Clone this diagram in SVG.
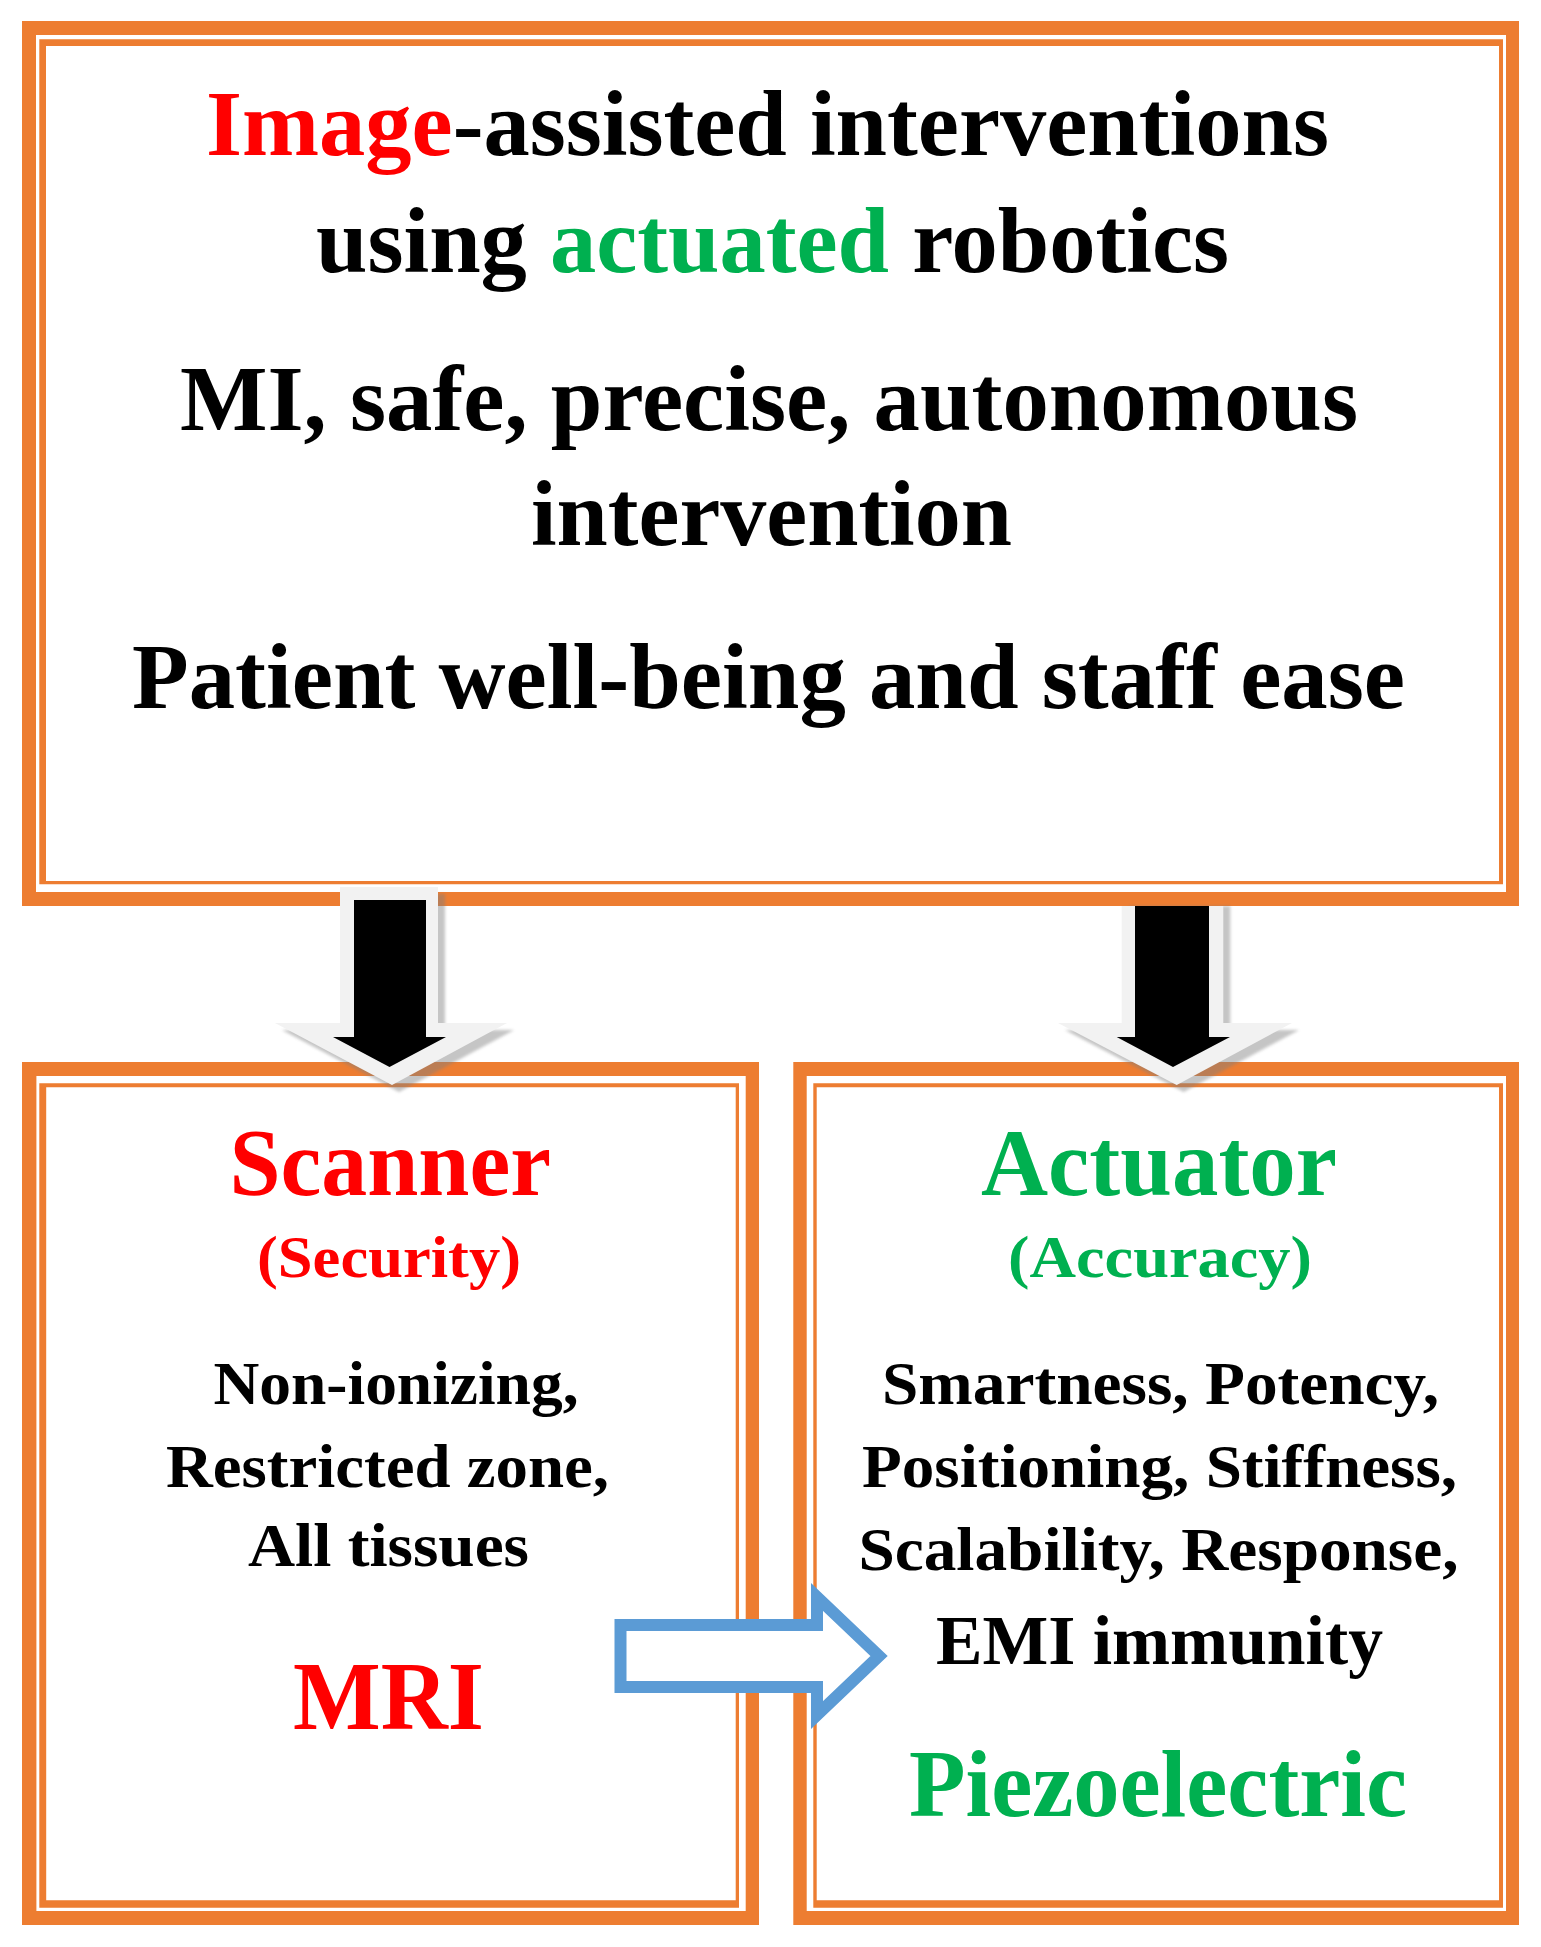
<svg xmlns="http://www.w3.org/2000/svg" width="1541" height="1947" viewBox="0 0 1541 1947">
<defs>
<style>
.band{fill:#ED7D31;fill-rule:evenodd}
.t{font-family:"Liberation Serif","Times New Roman",serif;font-weight:bold}
.big{font-size:94px}
.hd{font-size:96px}
.sub{font-size:60px}
.mid{font-size:62px}
.blk{fill:#000000}
.red{fill:#FF0000}
.grn{fill:#00B050}
.out{fill:#F2F2F2}
.shd{fill:#7F7F7F;opacity:0.45}
</style>
<filter id="blur" x="-10%" y="-10%" width="120%" height="120%"><feGaussianBlur stdDeviation="1.5"/></filter>
</defs>
<rect x="0" y="0" width="1541" height="1947" fill="#FFFFFF"/>

<g id="node-top">
<path class="band" d="M22 21 H1519 V906 H22 Z M36 35 V892 H1506 V35 Z"/>
<path class="band" d="M39.3 39.3 H1503 V884.3 H39.3 Z M46 46 V881 H1499 V46 Z"/>
<text class="t big blk" x="206" y="155" textLength="1123" lengthAdjust="spacingAndGlyphs"><tspan class="red">Image</tspan>-assisted interventions</text>
<text class="t big blk" x="316" y="272" textLength="913" lengthAdjust="spacingAndGlyphs">using <tspan class="grn">actuated</tspan> robotics</text>
<text class="t big blk" x="180" y="430" textLength="1178" lengthAdjust="spacingAndGlyphs">MI, safe, precise, autonomous</text>
<text class="t big blk" x="531" y="545" textLength="481" lengthAdjust="spacingAndGlyphs">intervention</text>
<text class="t big blk" x="132" y="708" textLength="1273" lengthAdjust="spacingAndGlyphs">Patient well-being and staff ease</text>
</g>

<g id="node-scanner">
<path class="band" d="M22 1062 H759 V1925 H22 Z M36.4 1076 V1911 H745.7 V1076 Z"/>
<path class="band" d="M39.3 1083.3 H739 V1907.7 H39.3 Z M46.2 1087.3 V1900.3 H735.7 V1087.3 Z"/>
<text class="t hd red" x="229.5" y="1195" textLength="321.5" lengthAdjust="spacingAndGlyphs">Scanner</text>
<text class="t sub red" x="257" y="1277" textLength="264" lengthAdjust="spacingAndGlyphs">(Security)</text>
<text class="t mid blk" x="213.5" y="1404" textLength="365" lengthAdjust="spacingAndGlyphs">Non-ionizing,</text>
<text class="t mid blk" x="166" y="1487" textLength="443" lengthAdjust="spacingAndGlyphs">Restricted zone,</text>
<text class="t mid blk" x="248" y="1566" textLength="281" lengthAdjust="spacingAndGlyphs">All tissues</text>
<text class="t red" style="font-size:97px" x="293" y="1729" textLength="191" lengthAdjust="spacingAndGlyphs">MRI</text>
</g>

<g id="node-actuator">
<path class="band" d="M793.3 1062 H1519 V1925 H793.3 Z M806.7 1076 V1911 H1506 V1076 Z"/>
<path class="band" d="M813.3 1083.3 H1503 V1907.7 H813.3 Z M816.7 1087.3 V1900.3 H1499 V1087.3 Z"/>
<text class="t hd grn" x="981" y="1195" textLength="356" lengthAdjust="spacingAndGlyphs">Actuator</text>
<text class="t sub grn" x="1008" y="1277" textLength="304" lengthAdjust="spacingAndGlyphs">(Accuracy)</text>
<text class="t mid blk" x="882" y="1404" textLength="557" lengthAdjust="spacingAndGlyphs">Smartness, Potency,</text>
<text class="t mid blk" x="862" y="1487" textLength="595" lengthAdjust="spacingAndGlyphs">Positioning, Stiffness,</text>
<text class="t mid blk" x="858.5" y="1570" textLength="600" lengthAdjust="spacingAndGlyphs">Scalability, Response,</text>
<text class="t blk" style="font-size:70px" x="936" y="1664" textLength="447" lengthAdjust="spacingAndGlyphs">EMI immunity</text>
<text class="t hd grn" x="909" y="1816" textLength="498" lengthAdjust="spacingAndGlyphs">Piezoelectric</text>
</g>

<g id="connectors">
<g id="arrow-top-scanner">
<polygon class="shd" filter="url(#blur)" points="347,894 445,894 445,1030 514,1030 399,1092 282,1030 347,1030"/>
<polygon class="out" points="340,887 438,887 438,1023 507,1023 392,1085 275,1023 340,1023"/>
<polygon class="blk" points="354,900 426,900 426,1037 446,1037 389.5,1067 333,1037 354,1037"/>
</g>
<g id="arrow-top-actuator">
<polygon class="shd" filter="url(#blur)" points="1128.7,906 1230.3,906 1230.3,1030 1299,1030 1183.7,1092 1065,1030 1128.7,1030"/>
<polygon class="out" points="1121.7,906 1223.3,906 1223.3,1023 1292,1023 1176.7,1085 1058,1023 1121.7,1023"/>
<polygon class="blk" points="1135,906 1209,906 1209,1037 1230,1037 1173,1067 1116.7,1037 1135,1037"/>
</g>
<polygon id="arrow-scanner-actuator" points="620.5,1625 817,1625 817,1597 879,1656 817,1715 817,1687 620.5,1687" fill="#FFFFFF" stroke="#5B9BD5" stroke-width="12"/>
</g>
</svg>
